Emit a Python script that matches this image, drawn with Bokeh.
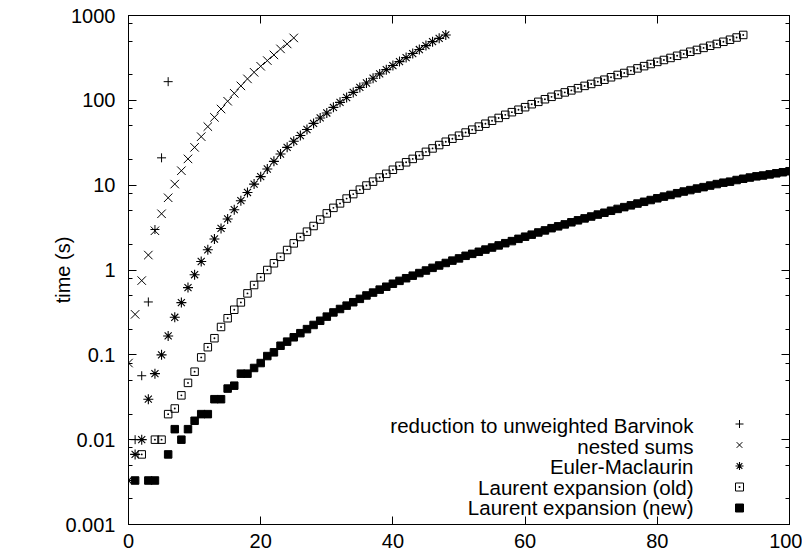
from bokeh.plotting import figure
from bokeh.models import (Range1d, FixedTicker, CustomJSTickFormatter, LinearAxis,
                          LogAxis, Legend, LegendItem, Label)
from bokeh.embed import file_html
from bokeh.resources import INLINE

# ---------------- data ----------------
x_ticks = [0, 20, 40, 60, 80, 100]
y_ticks = [0.001, 0.01, 0.1, 1, 10, 100, 1000]
y_minor = [0.002, 0.005, 0.008, 0.02, 0.05, 0.08, 0.2, 0.5, 0.8,
           2, 5, 8, 20, 50, 80, 200, 500, 800]

series_names = ["reduction to unweighted Barvinok", "nested sums", "Euler-Maclaurin",
                "Laurent expansion (old)", "Laurent expansion (new)"]

barvinok_x = [1, 2, 3, 4, 5, 6]
barvinok_t = [0.01, 0.0567, 0.42, 3.0, 21.0, 166.0]

nested_x = list(range(0, 26))
nested_t = [0.08, 0.30, 0.75, 1.5, 2.9, 4.6, 7.1, 10.3, 14.8, 20.4,
            27.9, 37.3, 49.0, 63.0, 79.0, 97.6, 121, 148, 179, 214,
            252, 294, 343, 404, 462, 544]

euler_x = list(range(0, 49))
euler_t = [0.0033, 0.0067, 0.01, 0.03, 0.06, 0.1, 0.167, 0.277, 0.413, 0.62,
           0.88, 1.26, 1.73, 2.32, 3.09, 4.0, 5.14, 6.56, 8.2, 10.3,
           12.6, 15.5, 19.1, 23.3, 27.9, 32.9, 38.5, 45.3, 53.5, 62.0,
           71.0, 82.7, 94.7, 108, 124, 142, 160, 182, 205, 230,
           257, 286, 319, 356, 397, 442, 492, 538, 590]

old_x = [2, 4, 5] + list(range(6, 94))
old_t = [0.0067, 0.01, 0.01,
         0.02, 0.0233, 0.0333, 0.0467, 0.0633, 0.0933, 0.123, 0.157, 0.213, 0.27,
         0.34, 0.415, 0.53, 0.665, 0.82, 1.0, 1.2, 1.43, 1.72, 2.06,
         2.45, 2.83, 3.3, 3.93, 4.65, 5.4, 6.1, 6.95, 7.85, 8.85,
         9.9, 11.0, 12.3, 13.6, 15.2, 16.9, 18.6, 20.4, 22.4, 24.7,
         27.1, 29.7, 32.5, 35.3, 38.3, 41.7, 45.1, 49.0, 53.0, 57.5,
         62.0, 67.5, 72.5, 77.5, 83.0, 90.0, 96.0, 103, 110, 117,
         124, 131, 139, 148, 156, 166, 175, 187, 199, 210,
         224, 238, 253, 268, 284, 299, 316, 335, 352, 374,
         393, 415, 440, 462, 490, 518, 550, 590]

new_x = [1, 3, 4] + list(range(6, 101))
new_t = [0.0033, 0.0033, 0.0033,
         0.0067, 0.0133, 0.01, 0.0133, 0.0167, 0.02, 0.02, 0.03, 0.03, 0.04,
         0.0433, 0.06, 0.06, 0.07, 0.08, 0.0967, 0.107, 0.128, 0.143, 0.161,
         0.180, 0.201, 0.225, 0.252, 0.282, 0.316, 0.347, 0.380, 0.417, 0.457,
         0.501, 0.542, 0.587, 0.635, 0.689, 0.745, 0.80, 0.857, 0.92, 0.986,
         1.06, 1.13, 1.21, 1.29, 1.37, 1.47, 1.55, 1.64, 1.74, 1.84,
         1.95, 2.07, 2.19, 2.33, 2.47, 2.61, 2.77, 2.93, 3.11, 3.27,
         3.45, 3.65, 3.85, 4.06, 4.27, 4.50, 4.73, 4.99, 5.25, 5.51,
         5.78, 6.07, 6.37, 6.68, 7.00, 7.33, 7.67, 8.04, 8.41, 8.75,
         9.12, 9.48, 9.89, 10.3, 10.7, 11.0, 11.5, 11.9, 12.3, 12.7,
         13.0, 13.4, 13.8, 14.2, 14.6]

# ---------------- figure ----------------
FONT = "Liberation Sans"
FS = "20px"

p = figure(frame_width=661, frame_height=509,
           min_border_left=128, min_border_right=13, min_border_top=15, min_border_bottom=20,
           x_range=Range1d(0, 100), y_range=Range1d(0.001, 1000), y_axis_type="log",
           output_backend="svg", toolbar_location=None)
p.xgrid.visible = False
p.ygrid.visible = False
p.outline_line_color = "black"
p.outline_line_width = 1
p.background_fill_color = "white"
p.border_fill_color = "white"

yfmt = CustomJSTickFormatter(code="return tick.toString();")
blankfmt = CustomJSTickFormatter(code="return '';")


def style_axis(ax):
    ax.axis_line_color = "black"
    ax.axis_line_width = 1
    ax.major_tick_line_color = "black"
    ax.minor_tick_line_color = "black"
    ax.major_tick_in = 8
    ax.major_tick_out = 0
    ax.minor_tick_in = 4
    ax.minor_tick_out = 0
    ax.major_label_text_font = FONT
    ax.major_label_text_font_size = FS
    ax.major_label_text_color = "black"


xa = p.xaxis[0]
xa.ticker = FixedTicker(ticks=x_ticks, minor_ticks=[])
style_axis(xa)
xa.major_label_standoff = 9

ya = p.yaxis[0]
ya.ticker = FixedTicker(ticks=y_ticks, minor_ticks=y_minor)
ya.formatter = yfmt
style_axis(ya)
ya.major_label_standoff = 13
ya.axis_label = "time (s)"
ya.axis_label_text_font = FONT
ya.axis_label_text_font_size = FS
ya.axis_label_text_font_style = "normal"
ya.axis_label_text_color = "black"
ya.axis_label_standoff = -12

top_ax = LinearAxis(ticker=FixedTicker(ticks=x_ticks, minor_ticks=[]), formatter=blankfmt)
style_axis(top_ax)
top_ax.major_label_standoff = 0
p.add_layout(top_ax, "above")

right_ax = LogAxis(ticker=FixedTicker(ticks=y_ticks, minor_ticks=y_minor), formatter=blankfmt)
style_axis(right_ax)
right_ax.major_label_standoff = 0
p.add_layout(right_ax, "right")

# ---------------- glyphs ----------------
r1 = p.scatter(barvinok_x, barvinok_t, marker="cross", size=9, line_color="black", line_width=1)
r2 = p.scatter(nested_x, nested_t, marker="x", size=12, line_color="black", line_width=1)
r3 = p.scatter(euler_x, euler_t, marker="asterisk", size=10, line_color="black", line_width=1.1)
r4 = p.scatter(old_x, old_t, marker="square_dot", size=7.5, line_color="black", line_width=1,
               fill_color=None)
r5 = p.scatter(new_x, new_t, marker="square", size=7.5, line_color="black", line_width=1,
               fill_color="black")
renderers = [r1, r2, r3, r4, r5]

# legend: marker column (Bokeh legend) with right-aligned texts to its left
legend = Legend(items=[LegendItem(label=" ", renderers=[r]) for r in renderers],
                location=(601, 6), glyph_width=20, glyph_height=21, label_height=21,
                label_standoff=0, label_text_font=FONT, label_text_font_size="8px",
                padding=0, spacing=0, margin=0,
                border_line_color=None, background_fill_alpha=0)
p.add_layout(legend)

ROW = 20.6
for i, name in enumerate(series_names):
    p.add_layout(Label(x=565, y=16.7 + ROW * (len(series_names) - 1 - i),
                       x_units="screen", y_units="screen", text=name,
                       text_align="right", text_baseline="middle",
                       text_font=FONT, text_font_size="20.5px", text_color="black"))

open("out.html", "w").write(file_html(p, INLINE))
